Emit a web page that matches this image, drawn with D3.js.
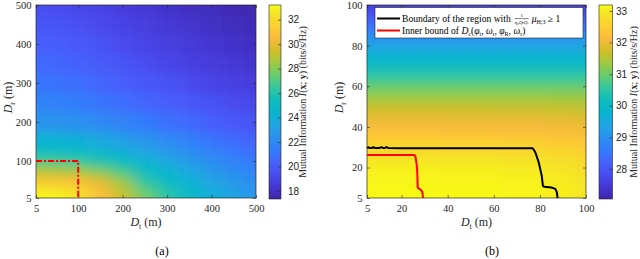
<!DOCTYPE html>
<html><head><meta charset="utf-8">
<script src="https://cdn.jsdelivr.net/npm/d3@7"></script>
<style>body{margin:0;background:#fff}svg{display:block}</style>
</head><body>
<svg id="chart" width="640" height="259"></svg>
<script>
// ---------- DATA ----------
// (a) mutual information over D_t (columns) x D_r (rows)
const xGridA = [5,50,100,150,200,250,300,350,400,450,500];
const yGridA = [5,25,50,75,100,125,150,200,250,300,350,400,450,500];
const miA = [
  [33.2,33.2,32.6,30.8,29.3,27.8,26.2,24.9,24.0,23.3,22.7],
  [32.6,32.5,31.9,30.5,29.0,27.2,25.9,24.7,23.8,23.1,22.5],
  [31.0,30.9,30.6,29.7,28.2,26.2,25.0,24.2,23.4,22.7,22.1],
  [28.9,28.8,28.5,27.8,26.8,25.2,24.4,23.5,22.8,22.2,21.7],
  [26.9,26.8,26.5,26.0,25.3,24.4,23.6,22.9,22.2,21.7,21.2],
  [25.4,25.3,25.0,24.6,24.0,23.4,22.8,22.2,21.7,21.2,20.8],
  [24.3,24.2,24.0,23.6,23.1,22.6,22.1,21.6,21.1,20.7,20.4],
  [22.6,22.5,22.3,22.0,21.7,21.3,20.9,20.6,20.2,19.9,19.6],
  [21.8,21.6,21.4,21.1,20.8,20.5,20.2,19.9,19.6,19.3,19.1],
  [21.1,21.0,20.8,20.5,20.2,19.9,19.6,19.3,19.0,18.8,18.6],
  [20.6,20.5,20.3,20.0,19.7,19.4,19.1,18.8,18.6,18.4,18.2],
  [20.2,20.1,19.9,19.6,19.3,19.0,18.7,18.5,18.3,18.1,17.9],
  [19.8,19.7,19.5,19.2,18.9,18.7,18.4,18.2,18.0,17.8,17.7],
  [19.4,19.3,19.1,18.9,18.6,18.4,18.1,17.9,17.8,17.6,17.5]
];
const xTicksA = [5,100,200,300,400,500];
const yTicksA = [5,100,200,300,400,500];
const cbTicksA = [18,20,22,24,26,28,30,32];
const cbDomainA = [17.35, 33.2];
const regionA = [[5,100],[100,100],[100,5]];

// (b)
const xGridB = [5,25,50,75,90,100];
const yGridB = [5,10,15,20,25,30,35,40,45,50,55,60,65,70,75,80,85,90,95,100];
const miB = [
  [33.16,33.16,33.15,33.12,33.05,32.95],
  [33.14,33.14,33.13,33.10,33.02,32.92],
  [33.10,33.10,33.09,33.06,32.98,32.88],
  [33.03,33.03,33.02,32.98,32.90,32.80],
  [32.88,32.88,32.87,32.83,32.75,32.66],
  [32.66,32.66,32.65,32.62,32.55,32.48],
  [32.42,32.42,32.41,32.38,32.32,32.28],
  [32.15,32.15,32.14,32.12,32.08,32.05],
  [31.93,31.93,31.93,31.91,31.88,31.85],
  [31.65,31.65,31.65,31.64,31.62,31.60],
  [31.33,31.33,31.33,31.33,31.32,31.31],
  [30.95,30.95,30.95,30.95,30.95,30.95],
  [30.55,30.55,30.55,30.55,30.55,30.55],
  [30.12,30.12,30.12,30.12,30.12,30.12],
  [29.75,29.75,29.75,29.75,29.75,29.75],
  [29.38,29.38,29.38,29.38,29.38,29.38],
  [28.95,28.95,28.95,28.95,28.95,28.95],
  [28.45,28.45,28.45,28.45,28.45,28.45],
  [27.97,27.97,27.97,27.97,27.97,27.97],
  [27.50,27.50,27.50,27.50,27.50,27.50]
];
const xTicksB = [5,20,40,60,80,100];
const yTicksB = [5,20,40,60,80,100];
const cbTicksB = [28,29,30,31,32,33];
const cbDomainB = [27.05, 33.19];
const boundaryB = [[5,29.6],[5.5,30.0],[6.2,29.6],[7,29.6],[7.8,30.0],[8.5,29.6],[10.5,29.6],[11.2,30.1],[12,29.6],[12.8,29.6],[13.5,30.1],[14.2,29.6],[20,29.5],[40,29.5],[60,29.5],[76.9,29.5],[78,27.5],[79.5,22.5],[80.8,16],[81.3,11],[82,10.5],[85,10.2],[86.7,9.5],[87.3,8],[87.7,5]];
const innerB = [[5,26.2],[25.5,26.2],[26,25.5],[26.5,22],[26.8,18],[27,10],[27.4,9.8],[28.5,8.8],[29,8],[29.3,5]];

// parula colormap stops (style)
const parula = ["#3e26a8","#4537d5","#484df0","#4563fd","#327cfc","#2b91ef","#20a5e3","#08b5d0","#0bbdbd","#31c69f","#64cd6f","#9dc943","#d1bf27","#f8ba3d","#fccf30","#f5e327","#f9fb15"];
const parulaPos = [0,4,8,12,16,20,24,28,32,36,40,44,48,52,56,60,63].map(i=>i/63);

// ---------- DRAW ----------
const svg = d3.select("#chart");
const defs = svg.append("defs");
const SERIF = "'Liberation Serif','DejaVu Serif',serif";
const SANS = "'Liberation Sans',Arial,sans-serif";
const AX = "#262626";

function parulaAt(t){
  t = Math.max(0, Math.min(1, t));
  let i = 1; while (i < parulaPos.length-1 && parulaPos[i] < t) i++;
  const a = parulaPos[i-1], b = parulaPos[i];
  return d3.interpolateRgb(parula[i-1], parula[i])((t-a)/(b-a));
}

function edges(p, ext){
  const n = p.length, s = Math.sign(p[1]-p[0]);
  const b = [p[0]-s*ext];
  for (let i=1;i<n;i++) b.push((p[i-1]+p[i])/2);
  b.push(p[n-1]+s*ext);
  return b;
}

function panel(o){
  const x = d3.scaleLinear().domain([5, o.xmax]).range([o.x0, o.x1]);
  const y = d3.scaleLinear().domain([5, o.ymax]).range([o.y1, o.y0]);
  const c = d3.scaleLinear().domain(o.cbDomain).range([0,1]).clamp(true);
  const g = svg.append("g");

  defs.append("clipPath").attr("id","clip"+o.id).append("rect")
    .attr("x",o.x0).attr("y",o.y0).attr("width",o.x1-o.x0).attr("height",o.y1-o.y0);
  defs.append("filter").attr("id","blur"+o.id)
    .attr("x","-20%").attr("y","-20%").attr("width","140%").attr("height","140%")
    .append("feGaussianBlur").attr("stdDeviation", o.blur);

  const clipG = g.append("g").attr("clip-path","url(#clip"+o.id+")");
  const heatG = clipG.append("g").attr("filter","url(#blur"+o.id+")");
  const xb = edges(o.xg.map(x), 40), yb = edges(o.yg.map(y), 40);
  const cells = [];
  o.M.forEach((row, j) => row.forEach((v, i) => cells.push({i, j, v})));
  heatG.selectAll("rect").data(cells).join("rect")
    .attr("x", d => Math.min(xb[d.i], xb[d.i+1]))
    .attr("y", d => Math.min(yb[d.j], yb[d.j+1]))
    .attr("width", d => Math.abs(xb[d.i+1]-xb[d.i]) + 0.5)
    .attr("height", d => Math.abs(yb[d.j+1]-yb[d.j]) + 0.5)
    .attr("fill", d => parulaAt(c(d.v)));

  // axes
  const styleAxis = sel => {
    sel.select(".domain").remove();
    sel.selectAll("line").attr("stroke", AX).attr("stroke-width", 0.6);
    sel.selectAll("text").attr("fill", AX).attr("font-family", SERIF).attr("font-size", 10.5);
  };
  g.append("g").attr("transform",`translate(0,${o.y1})`)
    .call(d3.axisBottom(x).tickValues(o.xt).tickSizeInner(-3).tickSizeOuter(0).tickPadding(6.5).tickFormat(d3.format("d")))
    .call(styleAxis);
  g.append("g").attr("transform",`translate(0,${o.y0})`)
    .call(d3.axisTop(x).tickValues(o.xt).tickSizeInner(-3).tickSizeOuter(0).tickFormat(""))
    .call(styleAxis);
  g.append("g").attr("transform",`translate(${o.x0},0)`)
    .call(d3.axisLeft(y).tickValues(o.yt).tickSizeInner(-3).tickSizeOuter(0).tickPadding(4.5).tickFormat(d3.format("d")))
    .call(styleAxis);
  g.append("g").attr("transform",`translate(${o.x1},0)`)
    .call(d3.axisRight(y).tickValues(o.yt).tickSizeInner(-3).tickSizeOuter(0).tickFormat(""))
    .call(styleAxis);
  g.append("rect").attr("x",o.x0).attr("y",o.y0).attr("width",o.x1-o.x0).attr("height",o.y1-o.y0)
    .attr("fill","none").attr("stroke",AX).attr("stroke-width",0.7);

  // colorbar
  const gid = "grad"+o.id;
  const grad = defs.append("linearGradient").attr("id",gid).attr("x1",0).attr("y1",1).attr("x2",0).attr("y2",0);
  parula.forEach((col,k)=>grad.append("stop").attr("offset",parulaPos[k]).attr("stop-color",col));
  g.append("rect").attr("x",o.cb0).attr("y",o.y0).attr("width",o.cb1-o.cb0).attr("height",o.cbBottom-o.y0)
    .attr("fill",`url(#${gid})`).attr("stroke",AX).attr("stroke-width",0.6);
  const cy = d3.scaleLinear().domain(o.cbDomain).range([o.cbBottom, o.y0]);
  const cax = g.append("g").attr("transform",`translate(${o.cb1},0)`)
    .call(d3.axisRight(cy).tickValues(o.cbt).tickSizeInner(-3).tickSizeOuter(0).tickPadding(o.cbPad).tickFormat(d3.format("d")));
  cax.select(".domain").remove();
  cax.selectAll("line").attr("stroke",AX).attr("stroke-width",0.6);
  cax.selectAll("text").attr("fill",AX).attr("font-family",SANS).attr("font-size",10);

  // colorbar label
  const cl = g.append("text").attr("transform",`translate(${o.cbLabelX},${(o.y0+o.cbBottom)/2}) rotate(-90)`)
    .attr("text-anchor","middle").attr("font-family",SERIF).attr("font-size",10).attr("fill",AX);
  cl.append("tspan").text("Mutual Information ");
  cl.append("tspan").attr("font-style","italic").text("I");
  cl.append("tspan").text("(");
  cl.append("tspan").attr("font-weight","bold").text("x");
  cl.append("tspan").text("; ");
  cl.append("tspan").attr("font-weight","bold").text("y");
  cl.append("tspan").text(") (bits/s/Hz)");

  // axis labels
  const xl = g.append("text").attr("x",(o.x0+o.x1)/2).attr("y",226).attr("text-anchor","middle")
    .attr("font-family",SERIF).attr("font-size",12).attr("fill",AX);
  xl.append("tspan").attr("font-style","italic").text("D");
  xl.append("tspan").attr("font-size",8).attr("dy",3).text("t");
  xl.append("tspan").attr("dy",-3).text(" (m)");
  const yl = g.append("text").attr("transform",`translate(${o.x0-24},${(o.y0+o.y1)/2-4}) rotate(-90)`)
    .attr("text-anchor","middle").attr("font-family",SERIF).attr("font-size",12).attr("fill",AX);
  yl.append("tspan").attr("font-style","italic").text("D");
  yl.append("tspan").attr("font-size",8).attr("dy",3).text("r");
  yl.append("tspan").attr("dy",-3).text(" (m)");

  svg.append("text").attr("x",o.capX).attr("y",255).attr("text-anchor","middle")
    .attr("font-family",SERIF).attr("font-size",12).attr("fill","#000").text(o.cap);

  return {g, x, y};
}

// panel (a)
const A = panel({id:"A", x0:36, x1:256, y0:5, y1:198, xmax:500, ymax:500,
  xg:xGridA, yg:yGridA, M:miA, xt:xTicksA, yt:yTicksA, cbDomain:cbDomainA, cbt:cbTicksA,
  blur:"8 5", cb0:269, cb1:281, cbBottom:199, cbPad:7, cbLabelX:306, cap:"(a)", capX:162});
const lineGen = (P) => d3.line().x(d=>P.x(d[0])).y(d=>P.y(d[1]));
A.g.append("path").datum(regionA).attr("d", lineGen(A)).attr("fill","none")
  .attr("stroke","#ff0000").attr("stroke-width",2).attr("stroke-dasharray","6,2,2,2");

// panel (b)
const B = panel({id:"B", x0:367, x1:586, y0:5, y1:198, xmax:100, ymax:100,
  xg:xGridB, yg:yGridB, M:miB, xt:xTicksB, yt:yTicksB, cbDomain:cbDomainB, cbt:cbTicksB,
  blur:"6 5", cb0:599, cb1:612.5, cbBottom:199, cbPad:3.5, cbLabelX:637, cap:"(b)", capX:492});
B.g.append("path").datum(boundaryB).attr("d", lineGen(B)).attr("fill","none")
  .attr("stroke","#000").attr("stroke-width",2).attr("stroke-linejoin","round");
B.g.append("path").datum(innerB).attr("d", lineGen(B)).attr("fill","none")
  .attr("stroke","#ff0000").attr("stroke-width",2).attr("stroke-linejoin","round");

// legend
const leg = B.g.append("g");
leg.append("rect").attr("x",375).attr("y",7.5).attr("width",208).attr("height",30.5)
  .attr("fill","#fff").attr("stroke",AX).attr("stroke-width",0.6);
leg.append("line").attr("x1",377).attr("x2",400).attr("y1",18.5).attr("y2",18.5).attr("stroke","#000").attr("stroke-width",2);
leg.append("line").attr("x1",377).attr("x2",400).attr("y1",30.5).attr("y2",30.5).attr("stroke","#ff0000").attr("stroke-width",2);
function applyF(s){ return s.attr("font-family",SERIF).attr("fill","#000"); }
const t1 = applyF(leg.append("text").attr("x",402).attr("y",22).attr("font-size",9.6)).text("Boundary of the region with");
let fx = 402 + t1.node().getComputedTextLength() + 4;
const den = applyF(leg.append("text").attr("x",fx).attr("y",24).attr("font-size",5).attr("font-style","italic")).text("η₀QₜQᵣ");
const fw = den.node().getComputedTextLength();
leg.append("line").attr("x1",fx).attr("x2",fx+fw).attr("y1",18.6).attr("y2",18.6).attr("stroke","#000").attr("stroke-width",0.5);
applyF(leg.append("text").attr("x",fx+fw/2).attr("y",16.8).attr("font-size",5).attr("text-anchor","middle")).text("1");
const t2 = applyF(leg.append("text").attr("x",fx+fw+3).attr("y",22).attr("font-size",9.6));
t2.append("tspan").attr("font-style","italic").text("μ");
t2.append("tspan").attr("font-size",6).attr("dy",2).text("H;3");
t2.append("tspan").attr("dy",-2).text(" ≥ 1");
const t3 = applyF(leg.append("text").attr("x",402).attr("y",34.2).attr("font-size",9.6));
t3.append("tspan").text("Inner bound of ");
t3.append("tspan").attr("font-style","italic").text("D");
t3.append("tspan").attr("font-size",6).attr("dy",2).text("c");
t3.append("tspan").attr("dy",-2).text("(");
t3.append("tspan").attr("font-style","italic").text("φ");
t3.append("tspan").attr("font-size",6).attr("dy",2).text("t");
t3.append("tspan").attr("dy",-2).text(", ");
t3.append("tspan").attr("font-style","italic").text("ω");
t3.append("tspan").attr("font-size",6).attr("dy",2).text("t");
t3.append("tspan").attr("dy",-2).text(", ");
t3.append("tspan").attr("font-style","italic").text("φ");
t3.append("tspan").attr("font-size",6).attr("dy",2).text("R");
t3.append("tspan").attr("dy",-2).text(", ");
t3.append("tspan").attr("font-style","italic").text("ω");
t3.append("tspan").attr("font-size",6).attr("dy",2).text("r");
t3.append("tspan").attr("dy",-2).text(")");
</script>
</body></html>
